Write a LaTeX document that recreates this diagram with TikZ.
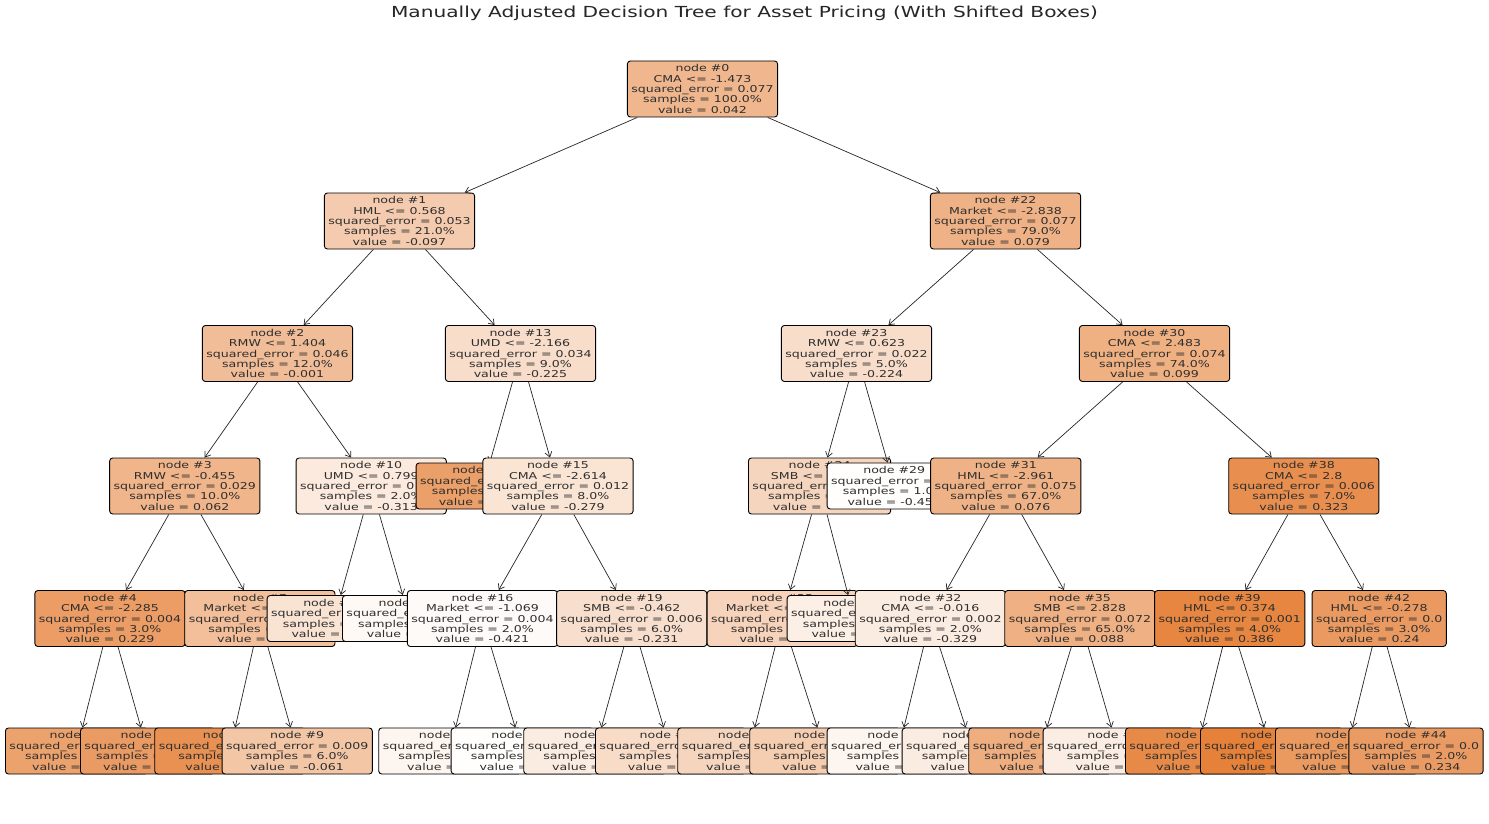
\documentclass[tikz,border=0pt]{standalone}
\usepackage{fontspec}
\usetikzlibrary{arrows.meta}
\newfontfamily\nf[FakeStretch=1.325]{DejaVu Sans}
\newcommand{\nodefont}{\nf\fontsize{9.5pt}{10.4pt}\selectfont}
\newcommand{\titlefont}{\nf\fontsize{15.2pt}{17pt}\selectfont}
\newcommand{\hd}[1]{\phantom{#1}}
\definecolor{sk}{RGB}{229,129,57}
\tikzset{
  box/.style={draw=black, line width=0.9pt, rounded corners=3pt, align=center,
    inner xsep=4pt, inner ysep=0pt, font=\nodefont, text=black!82},
  int/.style={box, minimum height=56pt},
  leaf/.style={box, minimum height=46pt},
  arr/.style={-{Straight Barb[length=5pt,width=7pt]}, line width=0.7pt, black!85},
}
\begin{document}
\begin{tikzpicture}[x=1pt,y=-1pt]
\useasboundingbox (0,0) rectangle (1489,824);
\fill[white] (0,0) rectangle (1489,824);
\node[font=\titlefont, text=black!85] (title) at (744.5,13) {Manually Adjusted Decision Tree for Asset Pricing (With Shifted Boxes)};

% ---- root
\node[int, fill=sk!57!white] (n0) at (702.5,89) {node \#0\\CMA <= -1.473\\squared\_error = 0.077\\samples = 100.0\%\\value = 0.042};
% ---- node 1
\node[int, fill=sk!41!white] (n1) at (399.5,221) {node \#1\\HML <= 0.568\\squared\_error = 0.053\\samples = 21.0\%\\value = -0.097};
\draw[arr] (n0) -- (n1);
\node[int, fill=sk!52!white] (n2) at (277.5,353.5) {node \#2\\RMW <= 1.404\\squared\_error = 0.046\\samples = 12.0\%\\value = -0.001};
\draw[arr] (n1) -- (n2);
\node[int, fill=sk!59!white] (n3) at (184.8,486) {node \#3\\RMW <= -0.455\\squared\_error = 0.029\\samples = 10.0\%\\value = 0.062};
\draw[arr] (n2) -- (n3);
\node[int, fill=sk!78!white] (n4) at (110,618.5) {node \#4\\CMA <= -2.285\\squared\_error = 0.004\\samples = 3.0\%\\value = 0.229};
\draw[arr] (n3) -- (n4);
\node[leaf, fill=sk!74!white, anchor=west] (n5) at (5,751) {node \#5\\squared\_error = \hd{0.01}\\samples = \hd{1.0\%}\\value = \hd{0.212}};
\draw[arr] (n4) -- (n5);
\node[leaf, fill=sk!79!white, anchor=west] (n6) at (80,751) {node \#6\\squared\_error = \hd{0.0}\\samples = \hd{2.0\%}\\value = \hd{0.237}};
\draw[arr] (n4) -- (n6);
\node[int, fill=sk!51!white, anchor=west] (n7) at (184.3,618.5) {node \#7\\Market <= \hd{-1.234}\\squared\_error = \hd{0.012}\\samples = \hd{7.0\%}\\value = \hd{-0.01}};
\draw[arr] (n3) -- (n7);
\node[leaf, fill=sk!87!white, anchor=west] (n8) at (154.3,751) {node \#8\\squared\_error = \hd{0.012}\\samples = \hd{1.0\%}\\value = \hd{0.299}};
\draw[arr] (n7) -- (n8);
\node[leaf, fill=sk!45!white] (n9) at (297.2,751) {node \#9\\squared\_error = 0.009\\samples = 6.0\%\\value = -0.061};
\draw[arr] (n7) -- (n9);
\node[int, fill=sk!17!white] (n10) at (371.2,486) {node \#10\\UMD <= 0.799\\squared\_error = 0\hd{.018}\\samples = 2.0\%\\value = -0.313};
\draw[arr] (n2) -- (n10);
\node[leaf, fill=sk!22!white, anchor=west] (n11) at (266.7,618.5) {node \#11\\squared\_error = \hd{0.0}\\samples = \hd{1.0\%}\\value = \hd{-0.33}};
\draw[arr] (n10) -- (n11);
\node[leaf, fill=sk!5!white, anchor=west] (n12) at (342,618.5) {node \#12\\squared\_error = \hd{0.0}\\samples = \hd{1.0\%}\\value = \hd{-0.42}};
\draw[arr] (n10) -- (n12);
\node[int, fill=sk!27!white] (n13) at (520.5,353.5) {node \#13\\UMD <= -2.166\\squared\_error = 0.034\\samples = 9.0\%\\value = -0.225};
\draw[arr] (n1) -- (n13);
\node[leaf, fill=sk!76!white, anchor=west] (n14) at (415.7,486) {node \#14\\squared\_error = \hd{0.0}\\samples = \hd{1.0\%}\\value = \hd{0.207}};
\draw[arr] (n13) -- (n14);
\node[int, fill=sk!21!white] (n15) at (558,486) {node \#15\\CMA <= -2.614\\squared\_error = 0.012\\samples = 8.0\%\\value = -0.279};
\draw[arr] (n13) -- (n15);
\node[int, fill=sk!4!white] (n16) at (482.5,618.5) {node \#16\\Market <= -1.069\\squared\_error = 0.004\\samples = 2.0\%\\value = -0.421};
\draw[arr] (n15) -- (n16);
\node[leaf, fill=sk!8!white, anchor=west] (n17) at (378.3,751) {node \#17\\squared\_error = \hd{0.01}\\samples = \hd{1.0\%}\\value = \hd{-0.39}};
\draw[arr] (n16) -- (n17);
\node[leaf, fill=sk!1!white, anchor=west] (n18) at (450.7,751) {node \#18\\squared\_error = \hd{0.01}\\samples = \hd{1.0\%}\\value = \hd{-0.46}};
\draw[arr] (n16) -- (n18);
\node[int, fill=sk!26!white] (n19) at (631.7,618.5) {node \#19\\SMB <= -0.462\\squared\_error = 0.006\\samples = 6.0\%\\value = -0.231};
\draw[arr] (n15) -- (n19);
\node[leaf, fill=sk!15!white, anchor=west] (n20) at (523.3,751) {node \#20\\squared\_error = \hd{0.01}\\samples = \hd{2.0\%}\\value = \hd{-0.33}};
\draw[arr] (n19) -- (n20);
\node[leaf, fill=sk!28!white, anchor=west] (n21) at (595,751) {node \#21\\squared\_error = \hd{0.012}\\samples = \hd{4.0\%}\\value = \hd{-0.21}};
\draw[arr] (n19) -- (n21);
% ---- node 22
\node[int, fill=sk!61!white] (n22) at (1005.5,221) {node \#22\\Market <= -2.838\\squared\_error = 0.077\\samples = 79.0\%\\value = 0.079};
\draw[arr] (n0) -- (n22);
\node[int, fill=sk!27!white] (n23) at (856.5,353.5) {node \#23\\RMW <= 0.623\\squared\_error = 0.022\\samples = 5.0\%\\value = -0.224};
\draw[arr] (n22) -- (n23);
\node[int, fill=sk!33!white, anchor=west] (n24) at (748,486) {node \#24\\SMB <= \hd{-0.123}\\squared\_error = \hd{0.01}\\samples = \hd{4.0\%}\\value = \hd{-0.166}};
\draw[arr] (n23) -- (n24);
\node[int, fill=sk!35!white, anchor=west] (n25) at (706.7,618.5) {node \#25\\Market <= \hd{-0.123}\\squared\_error = \hd{0.012}\\samples = \hd{3.0\%}\\value = \hd{-0.12}};
\draw[arr] (n24) -- (n25);
\node[leaf, fill=sk!33!white, anchor=west] (n26) at (677.3,751) {node \#26\\squared\_error = \hd{0.01}\\samples = \hd{1.0\%}\\value = \hd{-0.17}};
\draw[arr] (n25) -- (n26);
\node[leaf, fill=sk!40!white, anchor=west] (n27) at (749.3,751) {node \#27\\squared\_error = \hd{0.012}\\samples = \hd{2.0\%}\\value = \hd{-0.11}};
\draw[arr] (n25) -- (n27);
\node[leaf, fill=sk!13!white, anchor=west] (n28) at (786.7,618.5) {node \#28\\squared\_error = \hd{0.0}\\samples = \hd{1.0\%}\\value = \hd{-0.35}};
\draw[arr] (n24) -- (n28);
\node[leaf, fill=sk!1!white, anchor=west] (n29) at (826.7,486) {node \#29\\squared\_error = \hd{0.0}\\samples = 1.0\hd{\%}\\value = -0.45\hd{5}};
\draw[arr] (n23) -- (n29);
\node[int, fill=sk!63!white] (n30) at (1154.5,353.5) {node \#30\\CMA <= 2.483\\squared\_error = 0.074\\samples = 74.0\%\\value = 0.099};
\draw[arr] (n22) -- (n30);
\node[int, fill=sk!61!white] (n31) at (1005.8,486) {node \#31\\HML <= -2.961\\squared\_error = 0.075\\samples = 67.0\%\\value = 0.076};
\draw[arr] (n30) -- (n31);
\node[int, fill=sk!15!white] (n32) at (930.4,618.5) {node \#32\\CMA <= -0.016\\squared\_error = 0.002\\samples = 2.0\%\\value = -0.329};
\draw[arr] (n31) -- (n32);
\node[leaf, fill=sk!8!white, anchor=west] (n33) at (826.7,751) {node \#33\\squared\_error = \hd{0.01}\\samples = \hd{1.0\%}\\value = \hd{-0.39}};
\draw[arr] (n32) -- (n33);
\node[leaf, fill=sk!15!white, anchor=west] (n34) at (901.7,751) {node \#34\\squared\_error = \hd{0.01}\\samples = \hd{1.0\%}\\value = \hd{-0.32}};
\draw[arr] (n32) -- (n34);
\node[int, fill=sk!62!white] (n35) at (1079.9,618.5) {node \#35\\SMB <= 2.828\\squared\_error = 0.072\\samples = 65.0\%\\value = 0.088};
\draw[arr] (n31) -- (n35);
\node[leaf, fill=sk!64!white, anchor=west] (n36) at (968.3,751) {node \#36\\squared\_error = \hd{0.01}\\samples = \hd{64.0\%}\\value = \hd{0.09}};
\draw[arr] (n35) -- (n36);
\node[leaf, fill=sk!14!white, anchor=west] (n37) at (1042.7,751) {node \#37\\squared\_error = \hd{0.012}\\samples = \hd{1.0\%}\\value = \hd{-0.34}};
\draw[arr] (n35) -- (n37);
\node[int, fill=sk!89!white] (n38) at (1303.8,486) {node \#38\\CMA <= 2.8\\squared\_error = 0.006\\samples = 7.0\%\\value = 0.323};
\draw[arr] (n30) -- (n38);
\node[int, fill=sk!96!white] (n39) at (1229.7,618.5) {node \#39\\HML <= 0.374\\squared\_error = 0.001\\samples = 4.0\%\\value = 0.386};
\draw[arr] (n38) -- (n39);
\node[leaf, fill=sk!93!white, anchor=west] (n40) at (1125,751) {node \#40\\squared\_error = \hd{0.01}\\samples = \hd{2.0\%}\\value = \hd{0.37}};
\draw[arr] (n39) -- (n40);
\node[leaf, fill=sk!100!white, anchor=west] (n41) at (1200,751) {node \#41\\squared\_error = \hd{0.01}\\samples = \hd{2.0\%}\\value = \hd{0.41}};
\draw[arr] (n39) -- (n41);
\node[int, fill=sk!80!white] (n42) at (1379.2,618.5) {node \#42\\HML <= -0.278\\squared\_error = 0.0\\samples = 3.0\%\\value = 0.24};
\draw[arr] (n38) -- (n42);
\node[leaf, fill=sk!81!white, anchor=west] (n43) at (1275,751) {node \#43\\squared\_error = \hd{0.01}\\samples = \hd{1.0\%}\\value = \hd{0.252}};
\draw[arr] (n42) -- (n43);
\node[leaf, fill=sk!79!white] (n44) at (1416,751) {node \#44\\squared\_error = 0.0\\samples = 2.0\%\\value = 0.234};
\draw[arr] (n42) -- (n44);
\end{tikzpicture}
\end{document}
